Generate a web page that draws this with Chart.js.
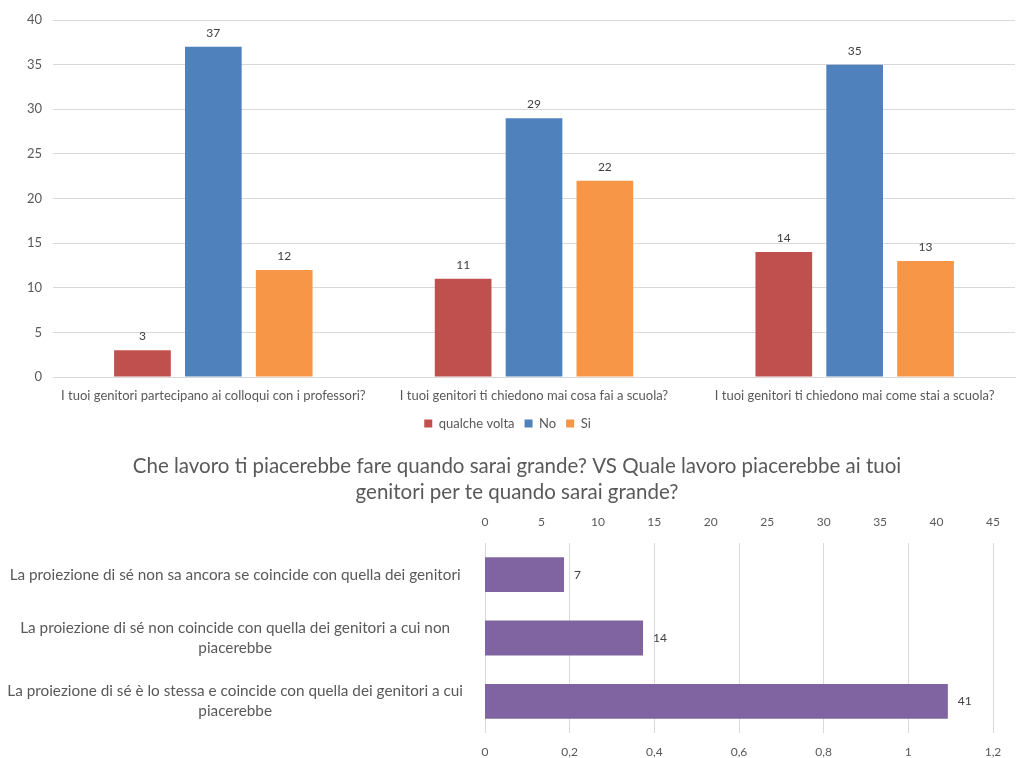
<!DOCTYPE html>
<html>
<head>
<meta charset="utf-8">
<script src="https://cdn.jsdelivr.net/npm/chart.js@4/dist/chart.umd.min.js"></script>
<style>
  html, body { margin: 0; padding: 0; background: #fff; }
  #wrap { position: relative; width: 1017px; height: 758px; overflow: hidden; }
  canvas { position: absolute; left: 0; }
  #chartTop { top: 0; }
  #chartBottom { top: 440px; }
</style>
</head>
<body>
<div id="wrap">
  <canvas id="chartTop" width="1017" height="440"></canvas>
  <canvas id="chartBottom" width="1017" height="318"></canvas>
</div>
<script>
'use strict'

// top chart data
var topCategories = [
    'I tuoi genitori partecipano ai colloqui con i professori?',
    'I tuoi genitori ti chiedono mai cosa fai a scuola?',
    'I tuoi genitori ti chiedono mai come stai a scuola?'
];
var seriesNames = ['qualche volta', 'No', 'Si'];
var seriesQualche = [3, 11, 14];
var seriesNo = [37, 29, 35];
var seriesSi = [12, 22, 13];

// bottom chart data
var bottomTitle = [
    'Che lavoro ti piacerebbe fare quando sarai grande? VS Quale lavoro piacerebbe ai tuoi',
    'genitori per te quando sarai grande?'
];
var bottomLabels = [
    ['La proiezione di sé non sa ancora se coincide con quella dei genitori'],
    ['La proiezione di sé non coincide con quella dei genitori a cui non', 'piacerebbe'],
    ['La proiezione di sé è lo stessa e coincide con quella dei genitori a cui', 'piacerebbe']
];
var bottomValues = [7, 14, 41];

var textColor = '#595959';
var gridColor = '#d9d9d9';
var fontFamily = "Lato, 'Open Sans', sans-serif";

Chart.defaults.font.family = fontFamily;
Chart.defaults.color = textColor;

var valueLabels = {
    id: 'valueLabels',
    afterDatasetsDraw: function (chart, args, opts) {
        var ctx = chart.ctx;
        ctx.save();
        ctx.font = opts.font;
        ctx.fillStyle = opts.color;
        chart.data.datasets.forEach(function (ds, i) {
            var meta = chart.getDatasetMeta(i);
            meta.data.forEach(function (bar, j) {
                var v = ds.data[j];
                if (opts.horizontal) {
                    ctx.textAlign = 'left';
                    ctx.textBaseline = 'middle';
                    ctx.fillText(v, bar.x + opts.offset, bar.y);
                } else {
                    ctx.textAlign = 'center';
                    ctx.textBaseline = 'bottom';
                    ctx.fillText(v, bar.x, bar.y - opts.offset);
                }
            });
        });
        ctx.restore();
    }
};

// title drawn a bit right of canvas centre, like the original
var offsetTitle = {
    id: 'offsetTitle',
    afterDraw: function (chart, args, opts) {
        var ctx = chart.ctx;
        ctx.save();
        ctx.font = opts.font;
        ctx.fillStyle = opts.color;
        ctx.textAlign = 'center';
        ctx.textBaseline = 'middle';
        opts.lines.forEach(function (line, i) {
            ctx.fillText(line, opts.x, opts.y + i * opts.lineHeight);
        });
        ctx.restore();
    }
};

var chartTopConfig = {
    type: 'bar',
    plugins: [valueLabels],
    data: {
        labels: topCategories,
        datasets: [{
            label: seriesNames[0],
            data: seriesQualche,
            backgroundColor: '#c0504d',
        }, {
            label: seriesNames[1],
            data: seriesNo,
            backgroundColor: '#4f81bd',
        }, {
            label: seriesNames[2],
            data: seriesSi,
            backgroundColor: '#f79646',
        }]
    },
    options: {
        responsive: false,
        animation: false,
        categoryPercentage: 0.663,
        barPercentage: 0.8,
        layout: {
            padding: { top: 20, right: 2, left: 0, bottom: 0 }
        },
        plugins: {
            legend: {
                position: 'bottom',
                labels: {
                    boxWidth: 8,
                    boxHeight: 8,
                    padding: 10,
                    font: { size: 13 },
                    color: textColor
                }
            },
            tooltip: { enabled: false },
            valueLabels: {
                font: '12px ' + fontFamily,
                color: '#404040',
                offset: 8
            }
        },
        scales: {
            y: {
                min: 0,
                max: 40,
                ticks: {
                    stepSize: 5,
                    padding: 11,
                    font: { size: 13 },
                    color: textColor
                },
                grid: {
                    color: gridColor,
                    drawTicks: false,
                },
                border: { display: false },
                afterFit: function (s) { s.width = 53; }
            },
            x: {
                ticks: {
                    maxRotation: 0,
                    autoSkip: false,
                    padding: 11,
                    font: { size: 13 },
                    color: textColor
                },
                grid: { display: false, drawTicks: false },
                border: { color: gridColor },
                afterFit: function (s) { s.height = 30; }
            }
        }
    }
};

var chartBottomConfig = {
    type: 'bar',
    plugins: [valueLabels, offsetTitle],
    data: {
        labels: bottomLabels,
        datasets: [{
            label: 'valori',
            data: bottomValues,
            backgroundColor: '#8064a2',
            xAxisID: 'x2',
        }]
    },
    options: {
        responsive: false,
        animation: false,
        indexAxis: 'y',
        categoryPercentage: 1,
        barPercentage: 0.55,
        layout: {
            padding: { top: 73, right: 24, left: 0, bottom: 0 }
        },
        plugins: {
            legend: { display: false },
            tooltip: { enabled: false },
            title: { display: false },
            offsetTitle: {
                lines: bottomTitle,
                font: '20.5px ' + fontFamily,
                color: textColor,
                x: 517,
                y: 26,
                lineHeight: 26
            },
            valueLabels: {
                font: '12px ' + fontFamily,
                color: '#404040',
                offset: 10,
                horizontal: true
            }
        },
        scales: {
            y: {
                ticks: {
                    crossAlign: 'center',
                    padding: 14,
                    font: { size: 15.3, lineHeight: 1.33 },
                    color: textColor
                },
                grid: { display: false },
                border: { display: false },
                afterFit: function (s) { s.width = 485; }
            },
            x: {
                position: 'bottom',
                min: 0,
                max: 1.2,
                ticks: {
                    stepSize: 0.2,
                    padding: 12,
                    font: { size: 12 },
                    color: textColor,
                    callback: function (v) {
                        return String(Math.round(v * 10) / 10).replace('.', ',');
                    }
                },
                grid: {
                    color: gridColor,
                    drawTicks: false,
                },
                border: { display: false },
                afterFit: function (s) { s.height = 25; }
            },
            x2: {
                position: 'top',
                min: 0,
                max: 45,
                ticks: {
                    stepSize: 5,
                    padding: 14,
                    font: { size: 12 },
                    color: textColor
                },
                grid: { display: false, drawTicks: false },
                border: { display: false },
                afterFit: function (s) { s.height = 30; }
            }
        }
    }
};

var chartTop = new Chart(document.getElementById('chartTop'), chartTopConfig);
var chartBottom = new Chart(document.getElementById('chartBottom'), chartBottomConfig);
</script>
</body>
</html>
